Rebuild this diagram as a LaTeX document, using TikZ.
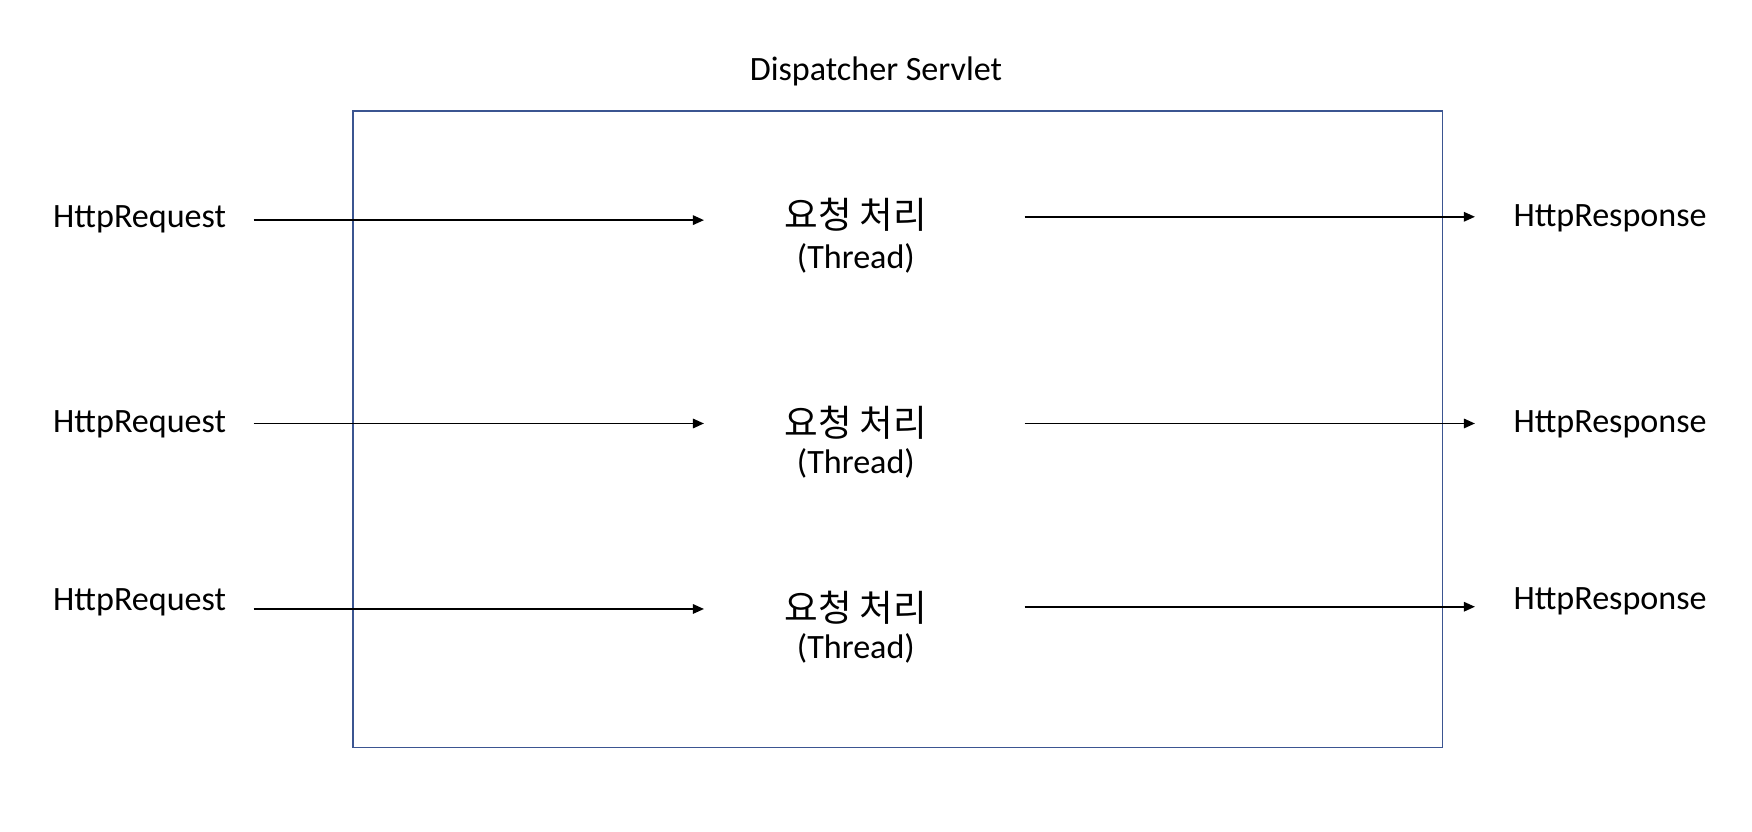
\documentclass[tikz,border=0pt]{standalone}
\usepackage{fontspec}
\usepackage{xcolor}
\usetikzlibrary{arrows.meta}
\setmainfont{Carlito}
\newfontfamily\kr{Noto Sans CJK KR}
\definecolor{boxblue}{HTML}{3B5591}

\begin{document}
\begin{tikzpicture}[x=0.011173cm, y=-0.011173cm, font=\fontsize{9.7}{11}\selectfont,
    arr/.style={-{Triangle[length=1.1mm, width=0.95mm]}, line width=0.45pt},
    korean/.style={font=\fontsize{10.4}{12}\selectfont\kr}]

    \useasboundingbox (0, 0) rectangle (1568, 744.6);

    \node (title) at (784, 64) {Dispatcher Servlet};
    \draw [boxblue, line width=0.55pt] (316, 99) rectangle (1291, 669);

    % requests
    \node (a1) at (125, 196) {HttpRequest};
    \node (a2) at (125, 380) {HttpRequest};
    \node (a3) at (125, 539) {HttpRequest};

    % threads
    \node [korean] (b1) at (766, 192) {요청 처리};
    \node (c1) at (766, 231) {(Thread)};
    \node [korean] (b2) at (766, 378) {요청 처리};
    \node (c2) at (766, 415) {(Thread)};
    \node [korean] (b3) at (766, 544) {요청 처리};
    \node (c3) at (766, 580) {(Thread)};

    % responses
    \node (d1) at (1441, 195) {HttpResponse};
    \node (d2) at (1441, 380) {HttpResponse};
    \node (d3) at (1441, 538) {HttpResponse};

    \coordinate (a1e) at (227, 197);
    \coordinate (b1w) at (630, 197);
    \coordinate (a2e) at (227, 379);
    \coordinate (b2w) at (630, 379);
    \coordinate (a3e) at (227, 545);
    \coordinate (b3w) at (630, 545);
    \coordinate (b1e) at (917, 194);
    \coordinate (d1w) at (1320, 194);
    \coordinate (b2e) at (917, 379);
    \coordinate (d2w) at (1320, 379);
    \coordinate (b3e) at (917, 543);
    \coordinate (d3w) at (1320, 543);

    \draw [arr] (a1e) to (b1w);
    \draw [arr] (a2e) to (b2w);
    \draw [arr] (a3e) to (b3w);
    \draw [arr] (b1e) to (d1w);
    \draw [arr] (b2e) to (d2w);
    \draw [arr] (b3e) to (d3w);

\end{tikzpicture}
\end{document}
